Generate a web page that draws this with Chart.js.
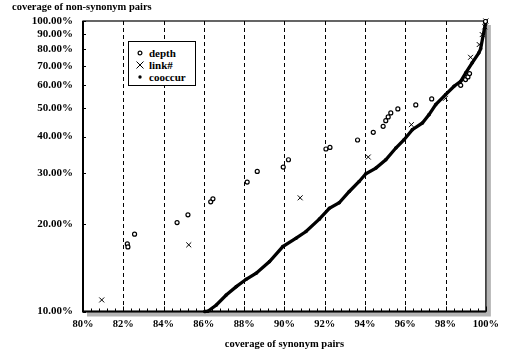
<!DOCTYPE html>
<html>
<head>
<meta charset="utf-8">
<script src="https://cdn.jsdelivr.net/npm/chart.js@4.4.1/dist/chart.umd.min.js"></script>
<style>
  html, body { margin: 0; padding: 0; background: #fff; }
  #wrap { position: relative; width: 505px; height: 356px; }
  #ytitle {
    position: absolute; left: 12px; top: 1px;
    font: bold 10.5px "Liberation Serif", "Times New Roman", serif;
    color: #000; white-space: nowrap;
  }
  #legend {
    position: absolute; left: 128px; top: 41px; width: 66px; height: 43px;
    border: 1.5px solid #000; background: #fff;
    font: bold 11px "Liberation Serif", "Times New Roman", serif; color: #000;
  }
  #legend .row { position: absolute; left: 0; height: 12px; line-height: 12px; white-space: nowrap; }
  #legend svg { position: absolute; left: 6px; top: 1px; }
  #legend span { position: absolute; left: 20px; top: 0; }
</style>
</head>
<body>
<div id="wrap">
  <canvas id="chart" width="505" height="356"></canvas>
  <div id="ytitle">coverage of non-synonym pairs</div>
  <div id="legend">
    <div class="row" style="top:5px">
      <svg width="10" height="10"><circle cx="5" cy="5" r="1.9" fill="#fff" stroke="#000" stroke-width="1.2"/></svg>
      <span>depth</span>
    </div>
    <div class="row" style="top:17px">
      <svg width="10" height="10"><path d="M1.5 1.5 L8.5 8.5 M8.5 1.5 L1.5 8.5" stroke="#000" stroke-width="1"/></svg>
      <span>link#</span>
    </div>
    <div class="row" style="top:29px">
      <svg width="10" height="10"><circle cx="5" cy="5" r="1.7" fill="#000"/></svg>
      <span>cooccur</span>
    </div>
  </div>
</div>
<script>
// axis ticks (percent)
const xTicks = [80, 82, 84, 86, 88, 90, 92, 94, 96, 98, 100];
const yTicks = [10, 20, 30, 40, 50, 60, 70, 80, 90, 100];

// depth: coverage of synonym pairs (x) vs. non-synonym pairs (y), percent
const depthX = [82.20, 82.23, 82.56, 84.67, 85.21, 86.34, 86.45, 88.15, 88.65, 89.94, 90.20,
                92.06, 92.26, 93.63, 94.41, 94.90, 95.03, 95.15, 95.28, 95.63, 96.52, 97.31,
                98.75, 98.99, 99.11, 99.19, 99.98];
const depthY = [17.09, 16.69, 18.46, 20.24, 21.52, 23.86, 24.43, 27.90, 30.35, 31.42, 33.30,
                36.25, 36.71, 38.94, 41.37, 43.38, 45.39, 46.74, 48.25, 49.81, 51.40, 53.91,
                60.05, 62.84, 64.21, 65.92, 99.6];

// link#
const linkX = [80.93, 85.25, 90.78, 94.16, 96.30, 97.99, 99.24, 99.67, 99.82, 99.95, 100.0];
const linkY = [10.96, 16.96, 24.62, 34.02, 43.97, 54.17, 75.0, 82.98, 89.8, 95.5, 100.0];

// cooccur
const cooccurX = [86.04, 86.20, 86.62, 87.11, 87.61, 88.10, 88.60, 89.26, 89.92, 90.58, 91.07,
                  91.73, 92.23, 92.72, 93.22, 93.71, 94.04, 94.54, 95.03, 95.53, 95.94, 96.35,
                  96.85, 97.18, 97.51, 98.00, 98.42, 98.75, 99.00, 99.32, 99.65, 99.74, 100.0];
const cooccurY = [10.0, 10.02, 10.53, 11.40, 12.18, 12.91, 13.54, 14.85, 16.73, 17.88, 18.85,
                  20.79, 22.66, 23.67, 25.89, 28.03, 29.79, 31.17, 33.30, 36.54, 39.03, 42.27,
                  44.57, 47.61, 51.53, 55.80, 59.60, 62.0, 66.29, 71.77, 77.68, 80.2, 100.0];

const pairs = (xs, ys) => xs.map((x, i) => ({ x: x, y: ys[i] }));
const FONT = '"Liberation Serif", "Times New Roman", serif';

// plot frame: drop shadow, dashed verticals, inward tick marks, axes
const framePlugin = {
  id: 'frame',
  beforeDatasetsDraw(chart) {
    const { ctx, chartArea: a, scales } = chart;
    ctx.save();
    ctx.fillStyle = '#b4b4b4';
    ctx.fillRect(a.left + 4, a.top + 4, a.right - a.left + 1, a.bottom - a.top + 1);
    ctx.fillStyle = '#fff';
    ctx.fillRect(a.left, a.top, a.right - a.left, a.bottom - a.top);

    ctx.strokeStyle = '#000';
    ctx.lineWidth = 1;
    ctx.setLineDash([4, 3]);
    xTicks.slice(1, -1).forEach(v => {
      const px = Math.round(scales.x.getPixelForValue(v)) + 0.5;
      ctx.beginPath();
      ctx.moveTo(px, a.top);
      ctx.lineTo(px, a.bottom);
      ctx.stroke();
    });
    ctx.setLineDash([]);

    // minor ticks every 0.4 on x, major at labelled values
    for (let k = 0; k <= 50; k++) {
      const v = 80 + k * 0.4;
      const px = Math.round(scales.x.getPixelForValue(v)) + 0.5;
      const len = (k % 5 === 0) ? 5 : 3;
      ctx.beginPath();
      ctx.moveTo(px, a.bottom);
      ctx.lineTo(px, a.bottom - len);
      ctx.stroke();
    }
    yTicks.forEach(v => {
      const py = Math.round(scales.y.getPixelForValue(v)) + 0.5;
      ctx.beginPath();
      ctx.moveTo(a.left, py);
      ctx.lineTo(a.left + 3, py);
      ctx.stroke();
    });

    ctx.lineWidth = 1.2;
    ctx.strokeRect(a.left, a.top, a.right - a.left, a.bottom - a.top);
    ctx.lineWidth = 2;
    ctx.beginPath();
    ctx.moveTo(a.left, a.top);
    ctx.lineTo(a.left, a.bottom);
    ctx.lineTo(a.right, a.bottom);
    ctx.stroke();
    ctx.restore();
  }
};

new Chart(document.getElementById('chart'), {
  type: 'scatter',
  data: {
    datasets: [
      {
        label: 'depth',
        data: pairs(depthX, depthY),
        pointStyle: 'circle',
        pointRadius: 2,
        borderWidth: 1.2,
        borderColor: '#000',
        backgroundColor: '#fff',
        clip: 6,
        order: 1
      },
      {
        label: 'link#',
        data: pairs(linkX, linkY),
        pointStyle: 'crossRot',
        pointRadius: 3.5,
        borderWidth: 1,
        borderColor: '#000',
        backgroundColor: '#000',
        clip: 6,
        order: 2
      },
      {
        label: 'cooccur',
        data: pairs(cooccurX, cooccurY),
        showLine: true,
        borderColor: '#000',
        backgroundColor: '#000',
        borderWidth: 3.3,
        pointStyle: 'circle',
        pointRadius: 1.8,
        pointBorderWidth: 0,
        tension: 0,
        clip: 6,
        order: 3
      }
    ]
  },
  options: {
    responsive: false,
    animation: false,
    layout: { padding: { left: 0, right: 18, top: 21, bottom: 0 } },
    plugins: {
      legend: { display: false },
      tooltip: { enabled: false }
    },
    scales: {
      x: {
        type: 'linear',
        min: 80,
        max: 100,
        grid: { display: false, drawTicks: false },
        border: { display: false },
        afterBuildTicks: s => { s.ticks = xTicks.map(v => ({ value: v })); },
        afterFit: s => { s.height = 44.5; },
        ticks: {
          padding: 6,
          color: '#000',
          font: { family: FONT, size: 10.5, weight: 'bold' },
          callback: v => v + '%'
        },
        title: {
          display: true,
          text: 'coverage of synonym pairs',
          color: '#000',
          font: { family: FONT, size: 10.5, weight: 'bold' },
          padding: { top: 0, bottom: 5.5 }
        }
      },
      y: {
        type: 'logarithmic',
        min: 10,
        max: 100,
        grid: { display: false, drawTicks: false },
        border: { display: false },
        afterBuildTicks: s => { s.ticks = yTicks.map(v => ({ value: v })); },
        afterFit: s => { s.width = 83; },
        ticks: {
          padding: 10,
          color: '#000',
          font: { family: FONT, size: 11, weight: 'bold' },
          callback: v => Number(v).toFixed(2) + '%'
        }
      }
    }
  },
  plugins: [framePlugin]
});
</script>
</body>
</html>
